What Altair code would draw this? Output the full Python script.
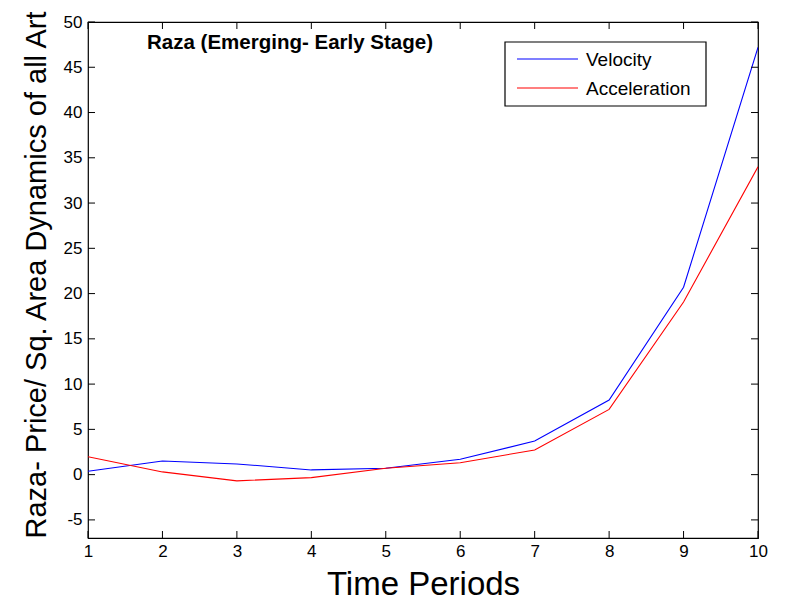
import altair as alt
import pandas as pd

periods = [1, 2, 3, 4, 5, 6, 7, 8, 9, 10]
velocity = [0.37, 1.51, 1.18, 0.52, 0.70, 1.70, 3.71, 8.24, 20.7, 47.2]
acceleration = [1.98, 0.30, -0.69, -0.33, 0.70, 1.32, 2.72, 7.21, 19.07, 34.0]
series_names = ["Velocity", "Acceleration"]
series_colors = ["#0000ff", "#ff0000"]
y_ticks = [-5, 0, 5, 10, 15, 20, 25, 30, 35, 40, 45, 50]
x_ticks = periods
chart_title = "Raza (Emerging- Early Stage)"

W, H = 670, 516
FONT = "Liberation Sans"

df = pd.DataFrame({
    "Period": periods * 2,
    "Value": velocity + acceleration,
    "Series": [series_names[0]] * len(periods) + [series_names[1]] * len(periods),
})
xt = pd.DataFrame({"t": x_ticks})
yt = pd.DataFrame({"t": y_ticks})
one = pd.DataFrame({"a": [0]})

xscale = alt.Scale(domain=[1, 10], nice=False, zero=False)
yscale = alt.Scale(domain=[-7, 50], nice=False, zero=False)

lines = alt.Chart(df).mark_line(strokeWidth=1.1, clip=True).encode(
    x=alt.X("Period:Q", scale=xscale,
            axis=alt.Axis(values=x_ticks, title="Time Periods", titleFontSize=33,
                          titleFontWeight="normal", titleFont=FONT,
                          titleBaseline="alphabetic", titleY=56,
                          titleColor="black",
                          labelFont=FONT, labelFontSize=17, labelColor="black",
                          labelExpr="datum.value + ''", labelFlush=False,
                          ticks=False, domain=False, grid=False, labelPadding=5)),
    y=alt.Y("Value:Q", scale=yscale,
            axis=alt.Axis(values=y_ticks, title="Raza- Price/ Sq. Area Dynamics of all Art",
                          titleFontSize=29, titleFontWeight="normal", titleFont=FONT,
                          titleColor="black", titleAnchor="start",
                          titlePadding=12, labelFont=FONT, labelFontSize=17,
                          labelExpr="datum.value + ''", labelFlush=False,
                          labelColor="black", ticks=False, domain=False, grid=False,
                          labelPadding=6)),
    color=alt.Color("Series:N",
                    scale=alt.Scale(domain=series_names, range=series_colors),
                    legend=None),
)

TL = 7
tick_l = alt.Chart(yt).mark_rule(color="black", strokeWidth=1).encode(
    y=alt.Y("t:Q", scale=yscale), x=alt.value(0), x2=alt.value(TL))
tick_r = alt.Chart(yt).mark_rule(color="black", strokeWidth=1).encode(
    y=alt.Y("t:Q", scale=yscale), x=alt.value(W - TL), x2=alt.value(W))
tick_b = alt.Chart(xt).mark_rule(color="black", strokeWidth=1).encode(
    x=alt.X("t:Q", scale=xscale), y=alt.value(H - TL), y2=alt.value(H))
tick_t = alt.Chart(xt).mark_rule(color="black", strokeWidth=1).encode(
    x=alt.X("t:Q", scale=xscale), y=alt.value(0), y2=alt.value(TL))

title_text = alt.Chart(pd.DataFrame({"s": [chart_title]})).mark_text(
    font=FONT, fontSize=20.5, fontWeight="bold", color="black", align="center", baseline="middle"
).encode(text="s:N", x=alt.value(202), y=alt.value(21))

# manual legend
LX0, LX1, LY0, LY1 = 417, 618, 20, 84
legend_box = alt.Chart(one).mark_rect(fill="white", stroke="black", strokeWidth=1.2).encode(
    x=alt.value(LX0), x2=alt.value(LX1), y=alt.value(LY0), y2=alt.value(LY1))
legend_layers = [legend_box]
row_y = [37, 66]
for name, col, ry in zip(series_names, series_colors, row_y):
    legend_layers.append(
        alt.Chart(one).mark_rule(color=col, strokeWidth=1.1).encode(
            x=alt.value(429), x2=alt.value(490), y=alt.value(ry)))
    legend_layers.append(
        alt.Chart(pd.DataFrame({"s": [name]})).mark_text(
            font=FONT, fontSize=19, color="black", align="left", baseline="middle"
        ).encode(text="s:N", x=alt.value(498), y=alt.value(ry + 1)))

chart = alt.layer(lines, tick_l, tick_r, tick_b, tick_t, title_text, *legend_layers).properties(
    width=W, height=H,
    autosize=alt.AutoSizeParams(type="none"),
    padding={"left": 80, "top": 14, "right": 10, "bottom": 63},
    background="white",
).configure_view(stroke="black", strokeWidth=1.2)

chart.save("out.html", embed_options={"renderer": "svg", "actions": False})
